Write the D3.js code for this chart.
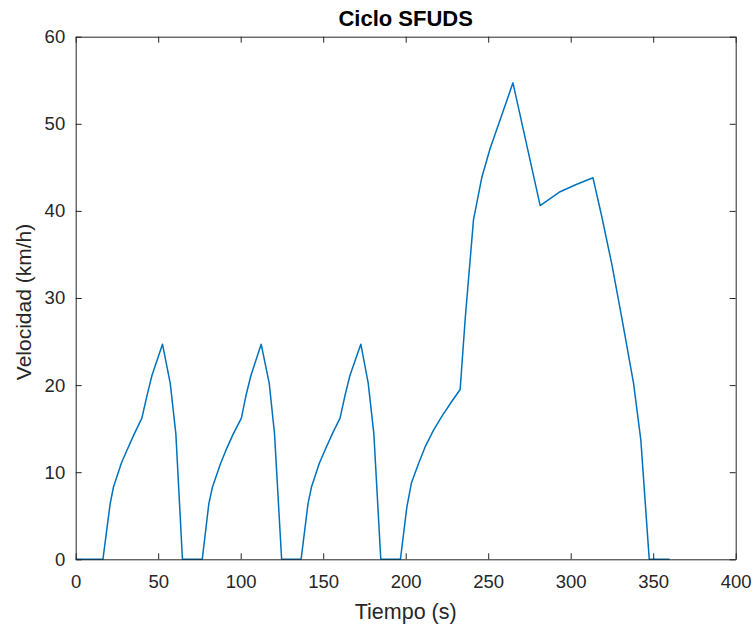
<!DOCTYPE html>
<html>
<head>
<meta charset="utf-8">
<script src="https://cdn.jsdelivr.net/npm/d3@7/dist/d3.min.js"></script>
<style>
	body { margin: 0; background: #fff; }
	svg { display: block; font-family: 'Liberation Sans', Arial, Helvetica, sans-serif; }
	.axis path, .axis line { stroke: #262626; }
	.axis text { fill: #262626; font-size: 18.5px; }
</style>
</head>
<body>
<script>
// Ciclo SFUDS: tiempo (s) y velocidad (km/h)
var tiempo = [
	0, 16.5, 20.9, 22.9, 27.6, 31.0, 35.5, 40.1, 43.2, 46.2, 52.6, 57.3, 60.7, 64.7,
	76.7, 80.7, 82.9, 87.8, 91.0, 95.5, 100.4, 103.2, 106.2, 112.4, 117.3, 120.5, 124.8,
	136.6, 140.8, 142.9, 147.6, 151.0, 155.5, 160.2, 163.2, 166.2, 172.8, 177.3, 180.7, 184.9,
	196.8, 200.7, 203.5, 207.8, 212.0, 216.8, 221.9, 227.5, 233.0, 236.1, 241.1, 246.2,
	251.2, 257.3, 265.0, 281.5, 293.6, 303.0, 313.5, 318.9, 325.0, 331.0, 338.1, 342.5,
	347.6, 360.0
];
var velocidad = [
	0, 0, 6.4, 8.3, 11.0, 12.5, 14.4, 16.2, 18.8, 21.1, 24.7, 20.2, 14.4, 0,
	0, 6.4, 8.3, 11.0, 12.5, 14.4, 16.2, 18.8, 21.1, 24.7, 20.2, 14.4, 0,
	0, 6.4, 8.3, 11.0, 12.5, 14.4, 16.2, 18.8, 21.1, 24.7, 20.2, 14.4, 0,
	0, 6.0, 8.8, 11.0, 13.0, 14.8, 16.4, 18.0, 19.5, 27.7, 39.0, 43.9,
	47.2, 50.5, 54.7, 40.6, 42.2, 43.0, 43.8, 39.3, 33.8, 27.7, 20.2, 13.7,
	0, 0
];
var xTicks = [0, 50, 100, 150, 200, 250, 300, 350, 400];
var yTicks = [0, 10, 20, 30, 40, 50, 60];

var margin = {top: 36.7, right: 18.3, bottom: 65.7, left: 75.7},
	width  = 754 - margin.left - margin.right,
	height = 625 - margin.top - margin.bottom;

var data = tiempo.map(function(t, i) { return {t: t, v: velocidad[i]}; });

var x = d3.scaleLinear().domain([0, 400]).range([0, width]),
	y = d3.scaleLinear().domain([0, 60]).range([height, 0]);

var svg = d3.select('body').append('svg')
	.attr('width', 754)
	.attr('height', 625);

var g = svg.append('g')
	.attr('transform', 'translate(' + margin.left + ',' + margin.top + ')');

g.append('path')
	.datum(data)
	.attr('fill', 'none')
	.attr('stroke', '#0072BD')
	.attr('stroke-width', 1.5)
	.attr('stroke-linejoin', 'round')
	.attr('d', d3.line()
		.x(function(d) { return x(d.t); })
		.y(function(d) { return y(d.v); }));

// ejes con ticks hacia dentro, caja completa
g.append('g')
	.attr('class', 'axis')
	.attr('transform', 'translate(0,' + height + ')')
	.call(d3.axisBottom(x).tickValues(xTicks).tickSizeInner(-6).tickSizeOuter(0).tickPadding(16));

g.append('g')
	.attr('class', 'axis')
	.call(d3.axisTop(x).tickValues(xTicks).tickSizeInner(-6).tickSizeOuter(0).tickFormat(''));

g.append('g')
	.attr('class', 'axis')
	.call(d3.axisLeft(y).tickValues(yTicks).tickSizeInner(-6).tickSizeOuter(0).tickPadding(10.5));

g.append('g')
	.attr('class', 'axis')
	.attr('transform', 'translate(' + width + ',0)')
	.call(d3.axisRight(y).tickValues(yTicks).tickSizeInner(-6).tickSizeOuter(0).tickFormat(''));

svg.selectAll('.axis .domain').attr('stroke-width', 1);
svg.selectAll('.axis text').attr('font-family', null);

svg.append('text')
	.attr('x', margin.left + width / 2)
	.attr('y', 25.7)
	.attr('text-anchor', 'middle')
	.attr('font-size', 22)
	.attr('font-weight', 'bold')
	.attr('fill', '#000')
	.text('Ciclo SFUDS');

svg.append('text')
	.attr('x', margin.left + width / 2)
	.attr('y', 619)
	.attr('text-anchor', 'middle')
	.attr('font-size', 21.5)
	.attr('fill', '#262626')
	.text('Tiempo (s)');

svg.append('text')
	.attr('transform', 'translate(30.7,' + (margin.top + height / 2 + 4) + ') rotate(-90)')
	.attr('text-anchor', 'middle')
	.attr('font-size', 21)
	.attr('fill', '#262626')
	.text('Velocidad (km/h)');
</script>
</body>
</html>
